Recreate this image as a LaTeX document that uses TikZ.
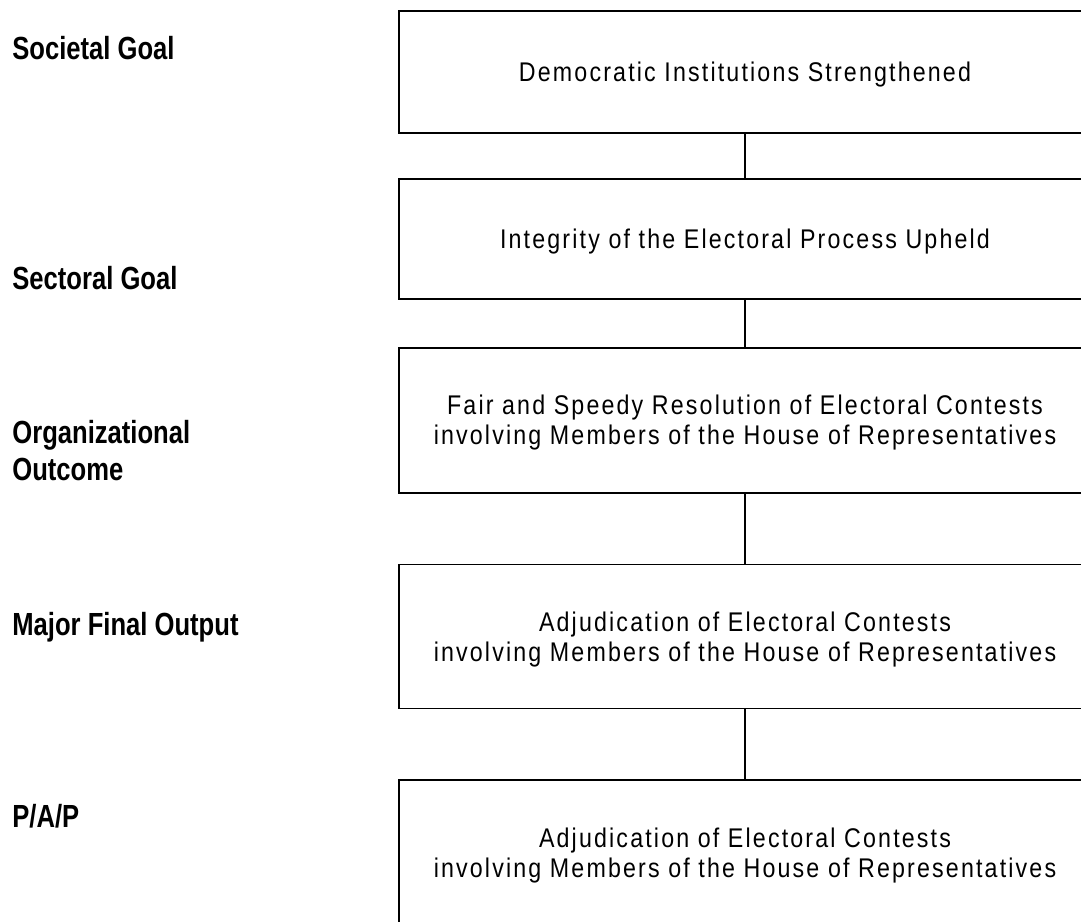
\documentclass[tikz,border=0pt]{standalone}
\usepackage{fontspec}
\setmainfont{Liberation Sans}
\newfontfamily\boxfont[FakeStretch=0.86,LetterSpace=8]{Liberation Sans}
\newfontfamily\tierfont[FakeStretch=0.8]{Liberation Sans}
\usetikzlibrary{positioning}
\begin{document}
\begin{tikzpicture}[
  x=0.5pt, y=-0.5pt,
  level/.style={rectangle, draw, line width=0.9pt, minimum width=346pt, minimum height=72.5pt, align=center,
    text depth=0pt, font=\boxfont\fontsize{13.5pt}{15pt}\selectfont},
  tier/.style={anchor=base west, inner sep=0pt, align=left,
    font=\tierfont\bfseries\fontsize{16pt}{18.5pt}\selectfont},
  node distance=36pt
]
\useasboundingbox (0,0) rectangle (1081,921);
\clip (0,0) rectangle (1081,921);

% Boxes
\node[level, minimum height=61pt] (societal) at (745,72) {Democratic Institutions Strengthened};
\node[level, minimum height=60pt, below=22pt of societal] (sectoral) {Integrity of the Electoral Process Upheld};
\node[level, below=23.5pt of sectoral] (outcome) {Fair and Speedy Resolution of Electoral Contests\\involving Members of the House of Representatives};
\node[level, minimum height=72pt, below=35pt of outcome] (mfo) {Adjudication of Electoral Contests\\involving Members of the House of Representatives};
\node[level, below=35pt of mfo] (pap) {Adjudication of Electoral Contests\\involving Members of the House of Representatives};

% Lines
\draw[line width=0.9pt] (societal) -- (sectoral);
\draw[line width=0.9pt] (sectoral) -- (outcome);
\draw[line width=0.9pt] (outcome) -- (mfo);
\draw[line width=0.9pt] (mfo) -- (pap);

% Labels
\node[tier] (lsoc) at (12,59) {Societal Goal};
\node[tier] (lsec) at (12,289) {Sectoral Goal};
\node[tier] (lorg) at (12,480) {Organizational\\Outcome};
\node[tier] (lmfo) at (12,635) {Major Final Output};
\node[tier] (lpap) at (12,827) {P/A/P};
\end{tikzpicture}
\end{document}
